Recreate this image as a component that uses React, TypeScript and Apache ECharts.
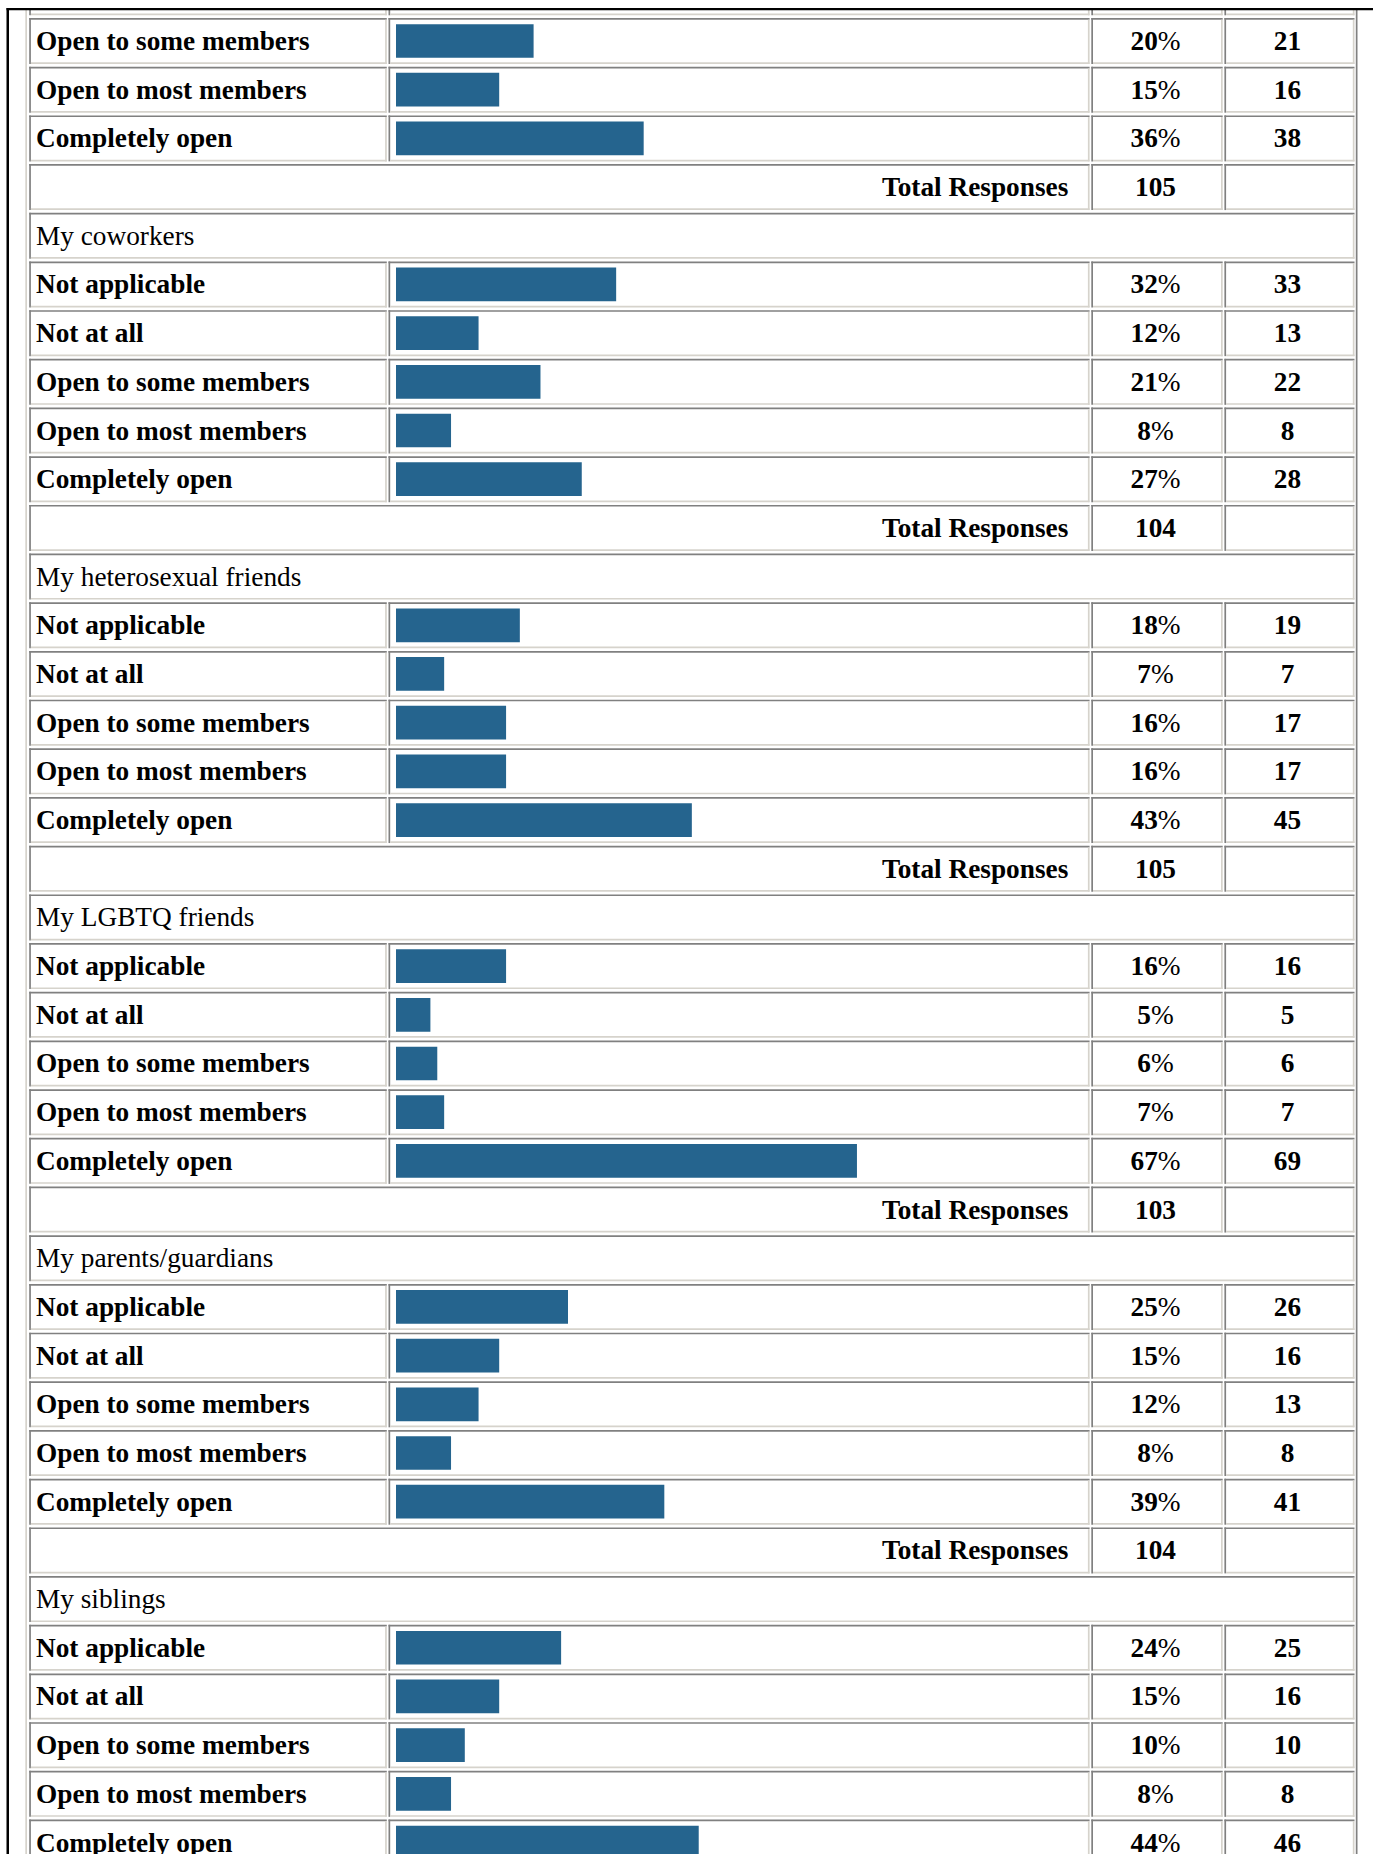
import React, { useEffect, useRef } from 'react';
import * as echarts from 'echarts';

const W = 1373;
const H = 1854;

// ---------- data ----------
const answers = ['Not applicable', 'Not at all', 'Open to some members', 'Open to most members', 'Completely open'];

// tail of the group scrolled above the visible area
const firstLabels = ['Open to some members', 'Open to most members', 'Completely open'];
const firstPct = [20, 15, 36];
const firstCount = [21, 16, 38];
const firstTotal = 105;

const groupNames = ['My coworkers', 'My heterosexual friends', 'My LGBTQ friends', 'My parents/guardians', 'My siblings'];
const coworkersPct = [32, 12, 21, 8, 27];
const coworkersCount = [33, 13, 22, 8, 28];
const heteroPct = [18, 7, 16, 16, 43];
const heteroCount = [19, 7, 17, 17, 45];
const lgbtqPct = [16, 5, 6, 7, 67];
const lgbtqCount = [16, 5, 6, 7, 69];
const parentsPct = [25, 15, 12, 8, 39];
const parentsCount = [26, 16, 13, 8, 41];
const siblingsPct = [24, 15, 10, 8, 44];
const siblingsCount = [25, 16, 10, 8, 46];
const groupTotals = [104, 105, 103, 104, null]; // siblings total is below the visible area

const groupPcts = [coworkersPct, heteroPct, lgbtqPct, parentsPct, siblingsPct];
const groupCounts = [coworkersCount, heteroCount, lgbtqCount, parentsCount, siblingsCount];

type Row = { kind: 'clip' | 'item' | 'total' | 'header'; label: string; pct: number | null; count: number | null };

function buildRows(): Row[] {
  const rows: Row[] = [];
  rows.push({ kind: 'clip', label: '', pct: null, count: null });
  firstLabels.forEach((l, i) => rows.push({ kind: 'item', label: l, pct: firstPct[i], count: firstCount[i] }));
  rows.push({ kind: 'total', label: 'Total Responses', pct: firstTotal, count: null });
  groupNames.forEach((g, gi) => {
    rows.push({ kind: 'header', label: g, pct: null, count: null });
    answers.forEach((a, ai) => rows.push({ kind: 'item', label: a, pct: groupPcts[gi][ai], count: groupCounts[gi][ai] }));
    if (groupTotals[gi] != null) rows.push({ kind: 'total', label: 'Total Responses', pct: groupTotals[gi], count: null });
  });
  return rows;
}

// ---------- layout / style ----------
const PITCH = 48.69;
const FIRST_CENTER = 41 - PITCH;
const GRID_TOP = FIRST_CENTER - PITCH / 2;
const BAR_LEFT = 396;
const BAR_SPAN = 688;
const LABEL_X = 36;
const PCT_X = 1155.5;
const CNT_X = 1287.5;
const TOTAL_RIGHT = 1068.3;
const CELL_H = 46;
const BW = 1.7;
const COLS: number[][] = [[29.2, 386.8], [388.5, 1089.6], [1091.3, 1222.7], [1224.4, 1354.5]];
const DARK = '#808080';
const LIGHT = '#d6d3cc';
const BAR_COLOR = '#25648e';
const FONT = '"Liberation Serif", "Times New Roman", serif';
const FS = 27.3;

export default function App() {
  const ref = useRef<HTMLDivElement>(null);

  useEffect(() => {
    document.body.style.margin = '0';
    document.body.style.overflow = 'hidden';
    const chart = echarts.init(ref.current as HTMLDivElement, null, { renderer: 'svg' });
    const rows = buildRows();
    const gridRight = W - (BAR_LEFT + BAR_SPAN);

    const cellRects = (l: number, r: number, top: number) => {
      const bottom = top + CELL_H;
      return [
        { type: 'rect', shape: { x: l, y: top, width: r - l, height: BW }, style: { fill: DARK } },
        { type: 'rect', shape: { x: l, y: top, width: BW, height: CELL_H }, style: { fill: DARK } },
        { type: 'rect', shape: { x: l + BW, y: bottom - BW, width: r - l - BW, height: BW }, style: { fill: LIGHT } },
        { type: 'rect', shape: { x: r - BW, y: top + BW, width: BW, height: CELL_H - BW }, style: { fill: LIGHT } },
      ];
    };

    const commonY = {
      type: 'category',
      inverse: true,
      axisLine: { show: false },
      axisTick: { show: false },
      splitLine: { show: false },
    };

    chart.setOption({
      animation: false,
      backgroundColor: '#ffffff',
      grid: {
        left: BAR_LEFT,
        right: gridRight,
        top: GRID_TOP,
        height: rows.length * PITCH,
        containLabel: false,
        outerBoundsMode: 'none',
      },
      xAxis: { type: 'value', min: 0, max: 100, show: false },
      yAxis: [
        {
          ...commonY,
          position: 'left',
          data: rows.map((r) => r.label),
          axisLabel: {
            interval: 0,
            hideOverlap: false,
            margin: BAR_LEFT - LABEL_X,
            align: 'left',
            verticalAlign: 'middle',
            fontFamily: FONT,
            fontSize: FS,
            color: '#000',
            formatter: (v: string, i: number) => {
              const r = rows[i];
              if (!r || !v) return '';
              if (r.kind === 'header') return `{g|${v}}`;
              if (r.kind === 'total') return `{t|${v}}`;
              return `{b|${v}}`;
            },
            rich: {
              b: { fontFamily: FONT, fontSize: FS, fontWeight: 'bold', color: '#000' },
              g: { fontFamily: FONT, fontSize: FS, fontWeight: 'normal', color: '#000' },
              t: { fontFamily: FONT, fontSize: FS, fontWeight: 'bold', color: '#000', width: TOTAL_RIGHT - LABEL_X, align: 'right' },
            },
          },
        },
        {
          ...commonY,
          position: 'right',
          data: rows.map((r) => (r.pct == null ? '' : r.kind === 'total' ? String(r.pct) : `${r.pct}%`)),
          axisLabel: {
            interval: 0,
            hideOverlap: false,
            margin: PCT_X - (BAR_LEFT + BAR_SPAN),
            align: 'center',
            verticalAlign: 'middle',
            fontFamily: FONT,
            fontSize: FS,
            color: '#000',
            formatter: (v: string) => {
              if (!v) return '';
              if (v.endsWith('%')) return `{n|${v.slice(0, -1)}}{p|%}`;
              return `{n|${v}}`;
            },
            rich: {
              n: { fontFamily: FONT, fontSize: FS, fontWeight: 'bold', color: '#000' },
              p: { fontFamily: FONT, fontSize: FS, fontWeight: 'normal', color: '#000' },
            },
          },
        },
        {
          ...commonY,
          position: 'right',
          data: rows.map((r) => (r.count == null ? '' : String(r.count))),
          axisLabel: {
            interval: 0,
            hideOverlap: false,
            margin: CNT_X - (BAR_LEFT + BAR_SPAN),
            align: 'center',
            verticalAlign: 'middle',
            fontFamily: FONT,
            fontSize: FS,
            fontWeight: 'bold',
            color: '#000',
          },
        },
      ],
      series: [
        {
          type: 'custom',
          xAxisIndex: 0,
          yAxisIndex: 0,
          clip: false,
          silent: true,
          z: 1,
          encode: { x: 0, y: 1 },
          data: rows.map((r, i) => [0, i]),
          renderItem: (params: any, api: any) => {
            const idx = api.value(1);
            const r = rows[idx];
            const c = api.coord([0, idx])[1];
            const top = c - CELL_H / 2;
            let spans: number[][];
            if (r.kind === 'header') spans = [[COLS[0][0], COLS[3][1]]];
            else if (r.kind === 'total') spans = [[COLS[0][0], COLS[1][1]], COLS[2], COLS[3]];
            else spans = COLS;
            const children: any[] = [];
            spans.forEach((s) => children.push(...cellRects(s[0], s[1], top)));
            return { type: 'group', children };
          },
        },
        {
          type: 'bar',
          xAxisIndex: 0,
          yAxisIndex: 0,
          barWidth: 33.7,
          z: 2,
          itemStyle: { color: BAR_COLOR },
          data: rows.map((r) => (r.kind === 'item' && r.pct != null ? r.pct : '-')),
        },
      ],
      graphic: [
        // table outer border (outset)
        { type: 'rect', z: 50, shape: { x: 25.3, y: 0, width: BW, height: H }, style: { fill: LIGHT } },
        { type: 'rect', z: 50, shape: { x: 1355.8, y: 0, width: BW, height: H }, style: { fill: DARK } },
        // white area outside the scroll frame
        { type: 'rect', z: 90, shape: { x: 0, y: 0, width: W, height: 8 }, style: { fill: '#ffffff' } },
        { type: 'rect', z: 90, shape: { x: 0, y: 0, width: 6.5, height: H }, style: { fill: '#ffffff' } },
        // frame lines
        { type: 'rect', z: 95, shape: { x: 6.5, y: 8, width: W - 6.5, height: 2.3 }, style: { fill: '#000000' } },
        { type: 'rect', z: 95, shape: { x: 6.5, y: 8, width: 2.5, height: H - 8 }, style: { fill: '#000000' } },
      ],
    });

    return () => chart.dispose();
  }, []);

  return <div ref={ref} style={{ position: 'absolute', left: 0, top: 0, width: W, height: H }} />;
}
